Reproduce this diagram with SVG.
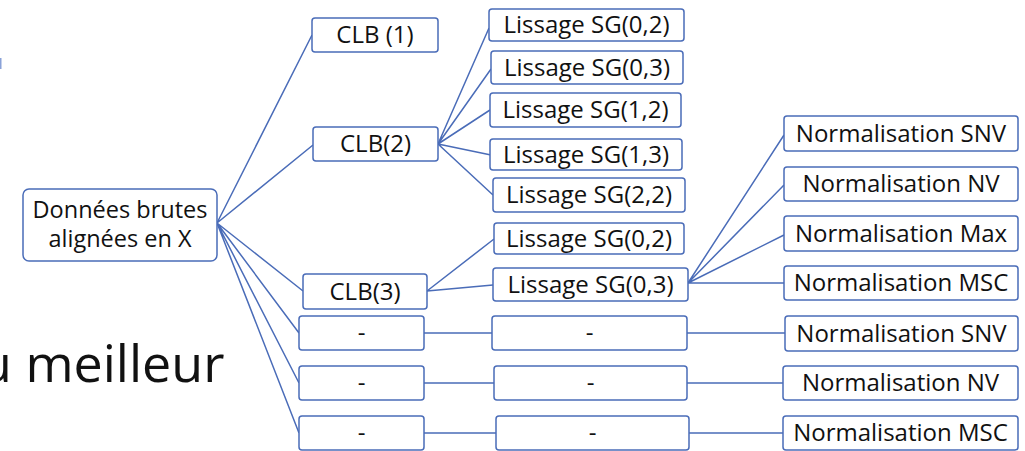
<svg xmlns="http://www.w3.org/2000/svg" width="1025" height="451" viewBox="0 0 1025 451">
<style>
.box{fill:#fff;stroke:#4a6cb8;stroke-width:1.5}
.t{font-family:"Open Sans","Liberation Sans",sans-serif;font-size:24px;fill:#111;text-anchor:middle}
.r{font-size:23.5px}
.c{stroke:#4a6cb8;stroke-width:1.5;fill:none}
</style>
<rect x="0" y="0" width="1025" height="451" fill="#fff"/>
<rect x="0" y="58" width="1.5" height="11" fill="#8aa2d8"/>
<text x="-20" y="382" font-family="'Open Sans','Liberation Sans',sans-serif" font-size="52" fill="#111">u meilleur</text>
<g id="connectors">
<path class="c" d="M217 223L312 35M217 223L313 145M217 223L303 291M217 223L299 333M217 223L299 383M217 223L299 433"/>
<path class="c" d="M438 144L489 28M438 144L491 69M438 144L490 110M438 144L491 155M438 144L493 195"/>
<path class="c" d="M427 291L494 239M427 291L493 285"/>
<path class="c" d="M688 283L784 135M688 283L784 185M688 283L784 235M688 283L784 283"/>
<path class="c" d="M424 333H492M687 333H785M424 383H494M687 383H783M424 433H496M689 433H783"/>
</g>
<g id="root"><rect class="box" x="23" y="189" width="194" height="72" rx="6"/><text class="t r" x="120" y="218">Données brutes</text><text class="t r" x="120" y="247">alignées en X</text></g>
<g id="clb1"><rect class="box" x="312" y="18" width="126" height="34" rx="3"/><text class="t" x="375" y="43">CLB (1)</text></g>
<g id="clb2"><rect class="box" x="313" y="127" width="125" height="34" rx="3"/><text class="t" x="375.5" y="152">CLB(2)</text></g>
<g id="clb3"><rect class="box" x="303" y="274" width="124" height="35" rx="3"/><text class="t" x="365" y="300">CLB(3)</text></g>
<g id="sg02a"><rect class="box" x="489" y="9" width="195" height="32" rx="3"/><text class="t" x="586.5" y="33">Lissage SG(0,2)</text></g>
<g id="sg03a"><rect class="box" x="491" y="51" width="192" height="33" rx="3"/><text class="t" x="587" y="76">Lissage SG(0,3)</text></g>
<g id="sg12"><rect class="box" x="490" y="93" width="191" height="34" rx="3"/><text class="t" x="585.5" y="118">Lissage SG(1,2)</text></g>
<g id="sg13"><rect class="box" x="490" y="139" width="192" height="31" rx="3"/><text class="t" x="586" y="163">Lissage SG(1,3)</text></g>
<g id="sg22"><rect class="box" x="493" y="178" width="192" height="34" rx="3"/><text class="t" x="589" y="203">Lissage SG(2,2)</text></g>
<g id="sg02b"><rect class="box" x="494" y="223" width="190" height="31" rx="3"/><text class="t" x="589" y="247">Lissage SG(0,2)</text></g>
<g id="sg03b"><rect class="box" x="493" y="268" width="195" height="33" rx="3"/><text class="t" x="590.5" y="293">Lissage SG(0,3)</text></g>
<g id="d1a"><rect class="box" x="299" y="316" width="125" height="34" rx="3"/><text class="t" x="361.5" y="341">-</text></g>
<g id="d2a"><rect class="box" x="299" y="366" width="125" height="34" rx="3"/><text class="t" x="361.5" y="391">-</text></g>
<g id="d3a"><rect class="box" x="299" y="416" width="125" height="34" rx="3"/><text class="t" x="361.5" y="441">-</text></g>
<g id="d1b"><rect class="box" x="492" y="316" width="195" height="34" rx="3"/><text class="t" x="589.5" y="341">-</text></g>
<g id="d2b"><rect class="box" x="494" y="366" width="193" height="34" rx="3"/><text class="t" x="590.5" y="391">-</text></g>
<g id="d3b"><rect class="box" x="496" y="416" width="193" height="34" rx="3"/><text class="t" x="592.5" y="441">-</text></g>
<g id="nsnv"><rect class="box" x="784" y="116" width="234" height="35" rx="3"/><text class="t" x="901" y="142">Normalisation SNV</text></g>
<g id="nnv"><rect class="box" x="784" y="167" width="234" height="34" rx="3"/><text class="t" x="901" y="192">Normalisation NV</text></g>
<g id="nmax"><rect class="box" x="784" y="216" width="234" height="35" rx="3"/><text class="t" x="901" y="242">Normalisation Max</text></g>
<g id="nmsc"><rect class="box" x="784" y="266" width="234" height="34" rx="3"/><text class="t" x="901" y="291">Normalisation MSC</text></g>
<g id="nsnv2"><rect class="box" x="785" y="316" width="233" height="35" rx="3"/><text class="t" x="901.5" y="342">Normalisation SNV</text></g>
<g id="nnv2"><rect class="box" x="783" y="366" width="235" height="34" rx="3"/><text class="t" x="900.5" y="391">Normalisation NV</text></g>
<g id="nmsc2"><rect class="box" x="783" y="416" width="235" height="34" rx="3"/><text class="t" x="900.5" y="441">Normalisation MSC</text></g>
</svg>
